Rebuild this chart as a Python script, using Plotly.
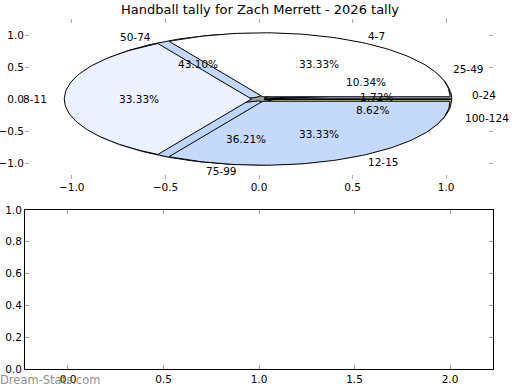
import numpy as np
import plotly.graph_objects as go

# ---- data ----
title_text = "Handball tally for Zach Merrett - 2026 tally"
outer_labels = ["0-24", "25-49", "50-74", "75-99", "100-124"]
outer_counts = [1, 6, 25, 21, 5]
outer_colors = ["#a9a9a9", "#ffffff", "#c3d8fc", "#bdd4fb", "#c6dd6c"]

inner_labels = ["4-7", "8-11", "12-15"]
inner_counts = [1, 1, 1]
inner_colors = ["#ffffff", "#ebf2fe", "#c5d9fb"]

top_xticks = [-1.0, -0.5, 0.0, 0.5, 1.0]
top_xticktext = ["\u22121.0", "\u22120.5", "0.0", "0.5", "1.0"]
top_yticks = [-1.0, -0.5, 0.0, 0.5, 1.0]
top_yticktext = ["\u22121.0", "\u22120.5", "0.0", "0.5", "1.0"]
bot_xticks = [0.0, 0.5, 1.0, 1.5, 2.0]
bot_xticktext = ["0.0", "0.5", "1.0", "1.5", "2.0"]
bot_yticks = [0.0, 0.2, 0.4, 0.6, 0.8, 1.0]
bot_yticktext = ["0.0", "0.2", "0.4", "0.6", "0.8", "1.0"]

FONT = "DejaVu Sans"
FS = 10.5

fig = go.Figure()
annotations = []


def wedge_xy(t1, t2, dx, dy, r=1.0):
    n = max(int(abs(t2 - t1) / 1.5) + 2, 3)
    t = np.radians(np.linspace(t1, t2, n))
    xs = np.concatenate([[dx], dx + r * np.cos(t), [dx]])
    ys = np.concatenate([[dy], dy + r * np.sin(t), [dy]])
    return xs, ys


def draw_pie(labels, counts, colors, explode, shadow=False):
    counts = np.asarray(counts, dtype=float)
    fr = counts / counts.sum()
    start = 0.0
    if shadow:
        xs, ys = wedge_xy(0, 360, -0.025, -0.03)
        fig.add_trace(go.Scatter(x=xs, y=ys, fill="toself", mode="lines",
                                 line=dict(width=0), fillcolor="rgba(80,80,80,0.55)",
                                 hoverinfo="skip", showlegend=False,
                                 xaxis="x", yaxis="y"))
    for lab, f, col in zip(labels, fr, colors):
        t1 = start
        t2 = start + 360 * f
        mid = np.radians((t1 + t2) / 2)
        dx = explode * np.cos(mid)
        dy = explode * np.sin(mid)
        xs, ys = wedge_xy(t1, t2, dx, dy)
        fig.add_trace(go.Scatter(x=xs, y=ys, fill="toself", mode="lines",
                                 line=dict(color="black", width=1),
                                 fillcolor=col, hoverinfo="skip",
                                 showlegend=False, xaxis="x", yaxis="y"))
        lx = dx + 1.1 * np.cos(mid)
        ly = dy + 1.1 * np.sin(mid)
        right = lx > 0
        annotations.append(dict(x=lx, y=ly, xref="x", yref="y", text=lab,
                                showarrow=False,
                                xanchor="left" if right else "right",
                                xshift=0 if right else 3,
                                yanchor="middle",
                                font=dict(family=FONT, size=FS, color="black")))
        px = dx + 0.6 * np.cos(mid)
        py = dy + 0.6 * np.sin(mid)
        annotations.append(dict(x=px, y=py, xref="x", yref="y",
                                text="%.2f%%" % (f * 100), showarrow=False,
                                xanchor="center", yanchor="middle",
                                font=dict(family=FONT, size=FS, color="black")))
        start = t2


draw_pie(outer_labels, outer_counts, outer_colors, 0.03, shadow=True)
draw_pie(inner_labels, inner_counts, inner_colors, 0.04)

# empty lower axes needs a trace reference to show
fig.add_trace(go.Scatter(x=[None], y=[None], xaxis="x2", yaxis="y2",
                         showlegend=False, hoverinfo="skip"))

annotations.append(dict(x=-25 / 468, y=-11 / 350, xref="paper", yref="paper",
                        text="Dream-Stats.com", showarrow=False,
                        xanchor="left", yanchor="middle", xshift=-2,
                        font=dict(family=FONT, size=11.5, color="rgba(120,120,120,0.85)")))

tick_font = dict(family=FONT, size=FS, color="black")
common = dict(showgrid=False, zeroline=False, ticks="inside", ticklen=4,
              tickfont=tick_font, fixedrange=True, automargin=False)
fig.update_layout(
    width=520, height=390,
    margin=dict(l=25, r=27, t=19, b=21, autoexpand=False),
    paper_bgcolor="white", plot_bgcolor="white",
    title=dict(text=title_text, x=0.5, xanchor="center", y=1 - 9 / 390,
               yanchor="middle", yref="container", automargin=False,
               font=dict(family=FONT, size=13, color="black")),
    xaxis=dict(domain=[0, 1], anchor="y", range=[-1.25, 1.25],
               tickvals=top_xticks, ticktext=top_xticktext,
               showline=False, tickcolor="#aaaaaa", mirror="ticks", **common),
    yaxis=dict(domain=[1 - 160 / 350, 1], anchor="x", range=[-1.25, 1.25],
               tickvals=top_yticks, ticktext=top_yticktext,
               showline=False, tickcolor="#aaaaaa", mirror="ticks", **common),
    xaxis2=dict(domain=[0, 1], anchor="y2", range=[-0.225, 2.225],
                tickvals=bot_xticks, ticktext=bot_xticktext,
                showline=True, linecolor="black", linewidth=1, mirror="ticks",
                tickcolor="#999999", **common),
    yaxis2=dict(domain=[0, 159 / 350], anchor="x2", range=[0, 1],
                tickvals=bot_yticks, ticktext=bot_yticktext,
                showline=True, linecolor="black", linewidth=1, mirror="ticks",
                tickcolor="#999999", **common),
    annotations=annotations,
    showlegend=False,
)

fig.write_html("out.html",
               config={"displayModeBar": False, "staticPlot": True},
               post_script="document.body.style.margin='0';"
                           "document.body.style.overflow='hidden';")
